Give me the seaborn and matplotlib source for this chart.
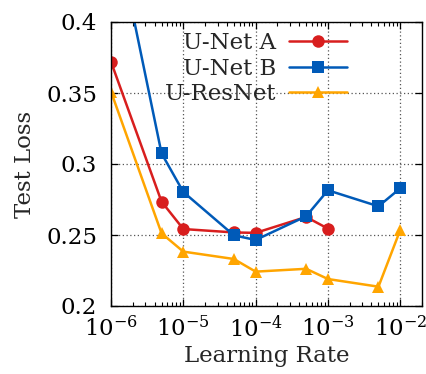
import matplotlib
matplotlib.use("Agg")
import matplotlib.pyplot as plt
import matplotlib.ticker as mticker
import numpy as np
import pandas as pd
import seaborn as sns

# Learning-rate sweep results
lr_a = [1e-6, 5e-6, 1e-5, 5e-5, 1e-4, 5e-4, 1e-3]
loss_a = [0.372, 0.2735, 0.2542, 0.2518, 0.2515, 0.2627, 0.2545]

lr_b = [1e-6, 5e-6, 1e-5, 5e-5, 1e-4, 5e-4, 1e-3, 5e-3, 1e-2]
loss_b = [0.48, 0.3075, 0.2803, 0.2498, 0.2465, 0.2632, 0.2815, 0.2702, 0.2829]

lr_r = [1e-6, 5e-6, 1e-5, 5e-5, 1e-4, 5e-4, 1e-3, 5e-3, 1e-2]
loss_r = [0.351, 0.2512, 0.2383, 0.2331, 0.2242, 0.2262, 0.2190, 0.2136, 0.2535]

series = [
    ("U-Net A", lr_a, loss_a, "#d81e1e", "o", 9),
    ("U-Net B", lr_b, loss_b, "#005ab8", "s", 9),
    ("U-ResNet", lr_r, loss_r, "#ffa500", "^", 8.5),
]

FS = 16.5

sns.set_style("ticks")
plt.rcParams["font.family"] = ["DejaVu Serif"]
plt.rcParams["mathtext.fontset"] = "dejavuserif"

fig = plt.figure(figsize=(4.27, 3.74), dpi=100)
ax = fig.add_axes([111 / 427, 1 - 306 / 374, 311 / 427, 284 / 374])

for name, x, y, color, marker, ms in series:
    df = pd.DataFrame({"lr": x, "loss": y})
    sns.lineplot(data=df, x="lr", y="loss", ax=ax, color=color, marker=marker,
                 markersize=ms, markeredgewidth=0, linewidth=1.8, label=name)

ax.set_xscale("log")
ax.set_xlim(1e-6, 2e-2)
ax.set_ylim(0.2, 0.4)
ax.set_yticks([0.2, 0.25, 0.3, 0.35, 0.4])
ax.yaxis.set_major_formatter(mticker.FuncFormatter(lambda v, p: f"{v:g}"))
ax.xaxis.set_major_locator(mticker.LogLocator(base=10, numticks=10))
ax.xaxis.set_minor_locator(mticker.LogLocator(base=10, subs=np.arange(2, 10), numticks=10))
ax.xaxis.set_minor_formatter(mticker.NullFormatter())

ax.grid(True, which="major", linestyle=(0, (1, 2)), color="#555555", linewidth=0.9)
ax.tick_params(which="both", direction="in", top=True, right=True, labelsize=FS, colors="black")
ax.tick_params(which="major", length=5, width=0.9)
ax.tick_params(axis="y", which="major", pad=10)
ax.tick_params(axis="x", which="major", pad=7)
ax.tick_params(which="minor", length=3, width=0.8)
for s in ax.spines.values():
    s.set_linewidth(1.0)
    s.set_color("black")

ax.set_xlabel("Learning Rate", fontsize=FS, labelpad=2)
ax.set_ylabel("Test Loss", fontsize=FS, labelpad=7)

leg = ax.legend(loc="upper right", bbox_to_anchor=(347 / 427, 1 - 32 / 374),
                bbox_transform=fig.transFigure, frameon=False,
                markerfirst=False, fontsize=FS, handlelength=2.55, labelspacing=0.16,
                handletextpad=0.55, borderaxespad=0, borderpad=0)

fig.savefig("out.png", dpi=100)
